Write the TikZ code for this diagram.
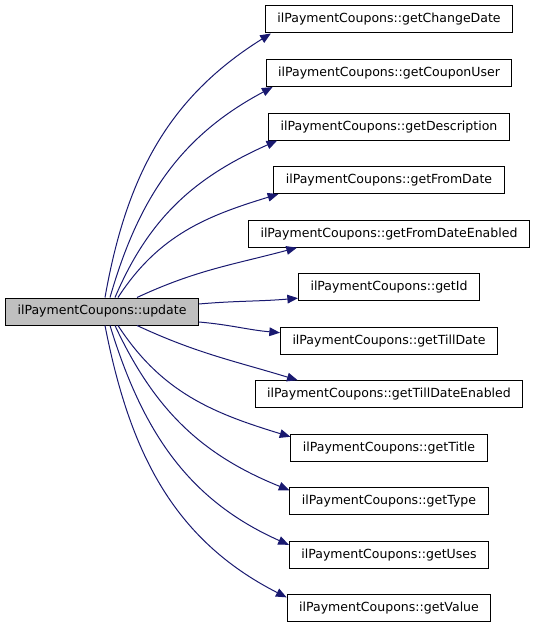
\documentclass[tikz,border=0pt]{standalone}
\usepackage{fontspec}
\setmainfont{DejaVu Sans}
\usepackage{tikz}
\usetikzlibrary{positioning,calc,arrows.meta}
\definecolor{edgeblue}{HTML}{191970}
\definecolor{rootgray}{HTML}{BFBFBF}

\begin{document}
\begin{tikzpicture}[
    x=0.75pt,y=0.75pt,
    fn/.style={rectangle,draw=black,line width=0.75pt,minimum height=20.25pt,inner xsep=9pt,inner ysep=0pt,font=\fontsize{9.4pt}{11pt}\selectfont},
    root/.style={fn,fill=rootgray},
    call/.style={-{Triangle[length=8pt,width=6.5pt]},draw=edgeblue,line width=0.75pt}
    ]
    \useasboundingbox (0,0) rectangle (536,-627);

    \node[root] (update) at (102,-311.5) {ilPaymentCoupons::update};

    \node[fn] (changedate) at (389,-19.5) {ilPaymentCoupons::getChangeDate};
    \node[fn,below=19.15pt of changedate] (couponuser) {ilPaymentCoupons::getCouponUser};
    \node[fn,below=19.15pt of couponuser] (description) {ilPaymentCoupons::getDescription};
    \node[fn,below=19.15pt of description] (fromdate) {ilPaymentCoupons::getFromDate};
    \node[fn,below=19.15pt of fromdate] (fromdateenabled) {ilPaymentCoupons::getFromDateEnabled};
    \node[fn,below=19.15pt of fromdateenabled] (getid) {ilPaymentCoupons::getId};
    \node[fn,below=19.15pt of getid] (tilldate) {ilPaymentCoupons::getTillDate};
    \node[fn,below=19.15pt of tilldate] (tilldateenabled) {ilPaymentCoupons::getTillDateEnabled};
    \node[fn,below=19.15pt of tilldateenabled] (title) {ilPaymentCoupons::getTitle};
    \node[fn,below=19.15pt of title] (type) {ilPaymentCoupons::getType};
    \node[fn,below=19.15pt of type] (uses) {ilPaymentCoupons::getUses};
    \node[fn,below=19.15pt of uses] (value) {ilPaymentCoupons::getValue};

    % calls going up
    \draw[call] ($(update.north)+(3,0)$) to[out=80,in=212] ($(changedate.south west)+(6,0)$);
    \draw[call] ($(update.north)+(8,0)$) to[out=74,in=208] ($(couponuser.south west)+(7,0)$);
    \draw[call] ($(update.north)+(13,0)$) to[out=67,in=204] ($(description.south west)+(9,0)$);
    \draw[call] ($(update.north)+(16,0)$) to[out=57,in=197] ($(fromdate.south west)+(5,0)$);
    \draw[call] ($(update.north)+(35,0)$) to[out=25,in=195] ($(fromdateenabled.south west)+(49,0)$);

    % calls to the right
    \draw[call] ($(update.east)+(0,7.5)$) to[out=5,in=185] ($(getid.south west)+(0,3)$);
    \draw[call] ($(update.east)+(0,-10.5)$) to[out=-5,in=175] ($(tilldate.north west)+(0,-6)$);

    % calls going down
    \draw[call] ($(update.south)+(35,0)$) to[out=-25,in=163] ($(tilldateenabled.north west)+(43,0)$);
    \draw[call] ($(update.south)+(16,0)$) to[out=-57,in=163] ($(title.north west)+(0,-3)$);
    \draw[call] ($(update.south)+(13,0)$) to[out=-65,in=158] ($(type.north west)+(0,-3)$);
    \draw[call] ($(update.south)+(8,0)$) to[out=-73,in=156] ($(uses.north west)+(0,-4)$);
    \draw[call] ($(update.south)+(3,0)$) to[out=-79,in=153] ($(value.north west)+(0,-3)$);

  \end{tikzpicture}
\end{document}
